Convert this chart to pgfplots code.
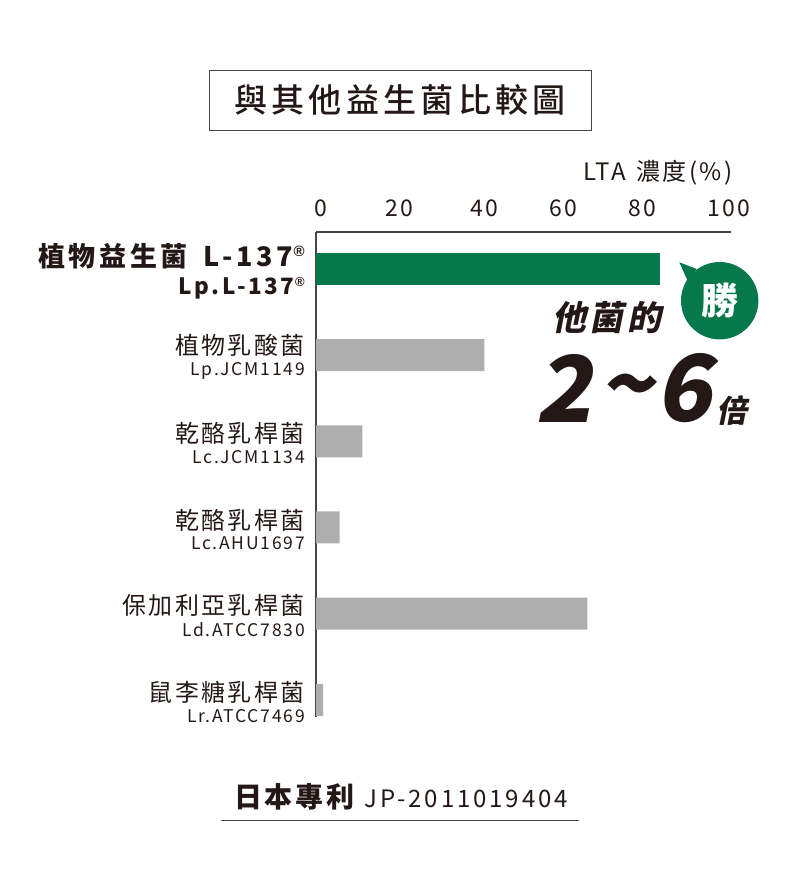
\documentclass[border=0pt]{standalone}
\usepackage{fontspec}
\usepackage{pgfplots}
\pgfplotsset{compat=1.18}
\setmainfont{Noto Sans CJK TC}
\newfontfamily\cj[LetterSpace=10]{Noto Sans CJK TC}
\newfontfamily\cjb[LetterSpace=11]{Noto Sans CJK TC}
\newfontfamily\cjc[LetterSpace=13.5]{Noto Sans CJK TC}
\newfontfamily\cjm[LetterSpace=13]{Noto Sans CJK TC Medium}
\newfontfamily\cjs[FakeSlant=0.2,LetterSpace=9]{Noto Sans CJK TC}
\newfontfamily\cjn[FakeSlant=0.2]{Noto Sans CJK TC}
\newfontfamily\rg{Liberation Sans}
\definecolor{ink}{HTML}{231815}
\definecolor{axisc}{HTML}{4A4545}
\definecolor{grn}{HTML}{06784C}
\definecolor{gry}{HTML}{AEAEAE}
\newcommand{\fs}[1]{\fontsize{#1}{#1}\selectfont}
\newcommand{\lab}[2]{{\fs{24}\cj #1}\\[5pt]{\fs{17.5}\cj #2}}
\newcommand{\regm}[2]{\raisebox{#2pt}{\kern1pt\rg\bfseries\fs{#1}®}}
\begin{document}
\begin{tikzpicture}[x=1pt,y=1pt]
\path[use as bounding box] (0,0) rectangle (801,-878);
\begin{axis}[
  at={(316pt,-717pt)},anchor=south west,
  scale only axis,width=415pt,height=485pt,
  xmin=0,xmax=100,ymin=-0.43,ymax=5.2,y dir=reverse,
  axis x line*=top,axis y line*=left,
  axis line style={draw=axisc,line width=1.2pt,-},
  xtick={1.2,20,40.5,59.5,78.6,99.5},
  xticklabels={0,20,40,60,80,100},
  major tick length=0pt,
  /pgf/number format/assume math mode=true,
  xticklabel style={font=\cj\fs{23},text=ink,yshift=12pt},
  ytick={0,1,2,3,4,5},
  yticklabels={
    {{\fs{27}\bfseries\cjc 植物益生菌\hspace{6pt} L-137\regm{15}{10}}\\[7pt]{\fs{22.5}\bfseries\cjb Lp.L-137\regm{13}{8}}},
    {\lab{植物乳酸菌}{Lp.JCM1149}},
    {\lab{乾酪乳桿菌}{Lc.JCM1134}},
    {\lab{乾酪乳桿菌}{Lc.AHU1697}},
    {\lab{保加利亞乳桿菌}{Ld.ATCC7830}},
    {\lab{鼠李糖乳桿菌}{Lr.ATCC7469}}},
  yticklabel style={align=right,text=ink,anchor=east,inner sep=0pt,xshift=-11pt,yshift=-2pt},
  xlabel={LTA\hspace{3pt} 濃度(\%)},
  xlabel style={at={(rel axis cs:1,1)},anchor=base east,font=\cj\fs{24},text=ink,yshift=52pt,xshift=5pt},
  xbar,bar width=32pt,bar shift=0pt,
]
\addplot[draw=none,fill=grn] coordinates {(82.9,0)};
\addplot[draw=none,fill=gry] coordinates {(40.6,1) (11.2,2) (5.7,3) (65.4,4) (1.7,5)};
\end{axis}
% title box
\draw[axisc,line width=1pt] (209,-70) rectangle (591,-130);
\node[text=ink,font=\fs{33}\cjm] at (400,-100) {與其他益生菌比較圖};
% callout
\fill[grn] (679.3,-262.3) -- (696.7,-269) -- (687.3,-280) -- cycle;
\fill[grn] (719.7,-300.7) circle (38.7);
\node[text=white,font=\bfseries\fs{37}] at (719.7,-301) {勝};
\node[text=ink,font=\bfseries\fs{34}\cjs,inner sep=0pt] at (607,-318) {他菌的};
\node[text=ink,font=\bfseries\fs{92}\cjn,inner sep=0pt] at (564,-388) {2};
\node[text=ink,font=\bfseries\fs{90}\cjn,inner sep=0pt] at (626,-396) {\textasciitilde};
\node[text=ink,font=\bfseries\fs{92}\cjn,inner sep=0pt] at (684,-388) {6};
\node[text=ink,font=\bfseries\fs{31}\cjn,inner sep=0pt] at (732,-410) {倍};
% footer
\node[text=ink,anchor=west,inner sep=0pt] at (234,-797) {{\bfseries\fs{28}\cj 日本專利}\hspace{10pt}{\fs{24}\cjb\addfontfeature{LetterSpace=12} JP-2011019404}};
\draw[axisc,line width=1pt] (221,-820) -- (579,-820);
\end{tikzpicture}
\end{document}
